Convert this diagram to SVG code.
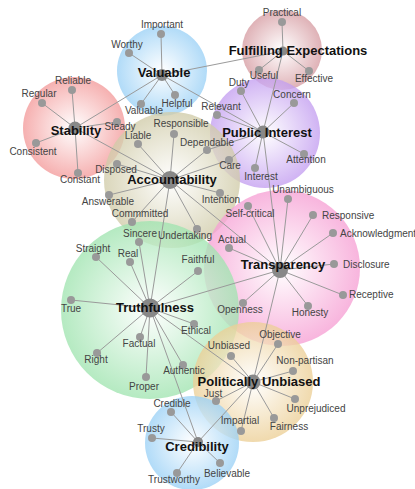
<svg xmlns="http://www.w3.org/2000/svg" width="415" height="489" viewBox="0 0 415 489">
<defs>
<style>
.e{stroke:#9a9a9a;stroke-width:1;fill:none}
.d{fill:#999}
.h{fill:#888}
.l{font-family:"Liberation Sans",Arial,sans-serif;font-size:10px;fill:#444;text-anchor:middle}
.s{text-anchor:start}
.t{font-family:"Liberation Sans",Arial,sans-serif;font-size:13px;font-weight:bold;fill:#111;text-anchor:middle}
.c{fill-opacity:0.78}
</style>
<radialGradient id="gBlue"><stop offset="0" stop-color="#fff"/><stop offset="1" stop-color="#9bd1f6"/></radialGradient>
<radialGradient id="gRed"><stop offset="0" stop-color="#fff"/><stop offset="1" stop-color="#f39a9a"/></radialGradient>
<radialGradient id="gRose"><stop offset="0" stop-color="#fff"/><stop offset="1" stop-color="#d69ca2"/></radialGradient>
<radialGradient id="gPurple"><stop offset="0" stop-color="#fff"/><stop offset="1" stop-color="#c39ef0"/></radialGradient>
<radialGradient id="gOlive"><stop offset="0" stop-color="#fff"/><stop offset="1" stop-color="#d0cba8"/></radialGradient>
<radialGradient id="gPink"><stop offset="0" stop-color="#fff"/><stop offset="1" stop-color="#f6a0d4"/></radialGradient>
<radialGradient id="gGreen"><stop offset="0" stop-color="#fff"/><stop offset="1" stop-color="#a0e4b0"/></radialGradient>
<radialGradient id="gTan"><stop offset="0" stop-color="#fff"/><stop offset="1" stop-color="#eccf96"/></radialGradient>
</defs>
<rect width="415" height="489" fill="#fff"/>
<g id="circles">
<circle class="c" cx="162" cy="71" r="45" fill="url(#gBlue)"/>
<circle class="c" cx="74" cy="128" r="51" fill="url(#gRed)"/>
<circle class="c" cx="282" cy="50" r="40" fill="url(#gRose)"/>
<circle class="c" cx="265" cy="133" r="55" fill="url(#gPurple)"/>
<circle class="c" cx="172" cy="180" r="68" fill="url(#gOlive)"/>
<circle class="c" cx="282" cy="268" r="78" fill="url(#gPink)"/>
<circle class="c" cx="150" cy="310" r="89" fill="url(#gGreen)"/>
<circle class="c" cx="253" cy="382" r="60" fill="url(#gTan)"/>
<circle class="c" cx="192" cy="443" r="47" fill="url(#gBlue)"/>
</g>
<g id="connectors">
<path class="e" d="M162 75L161 34M162 75L129 53M162 75L141 104M162 75L175 95M162 75L75 128M162 75L283 51M162 75L263 132"/>
<path class="e" d="M75 128L72 90M75 128L42 103M75 128L117 122M75 128L36 143M75 128L78 173M75 128L170 180"/>
<path class="e" d="M283 51L282 22M283 51L259 70M283 51L309 71M283 51L263 132"/>
<path class="e" d="M263 132L241 91M263 132L294 103M263 132L217 115M263 132L207 150M263 132L229 160M263 132L255 168M263 132L304 154M263 132L280 270"/>
<path class="e" d="M170 180L174 134M170 180L138 144M170 180L207 150M170 180L229 160M170 180L117 164M170 180L109 195M170 180L132 222M170 180L220 193M170 180L197 229M170 180L150 308M170 180L280 270"/>
<path class="e" d="M280 270L288 199M280 270L248 206M280 270L313 215M280 270L333 233M280 270L334 264M280 270L343 295M280 270L308 306M280 270L243 303M280 270L229 248M280 270L150 308M280 270L253 382"/>
<path class="e" d="M150 308L96 257M150 308L130 262M150 308L139 242M150 308L198 271M150 308L71 300M150 308L97 353M150 308L140 337M150 308L146 377M150 308L194 324M150 308L183 365M150 308L253 382M150 308L198 442"/>
<path class="e" d="M253 382L278 344M253 382L231 356M253 382L293 371M253 382L295 399M253 382L274 418M253 382L241 431M253 382L216 401M253 382L198 442"/>
<path class="e" d="M198 442L171 412M198 442L152 438M198 442L177 473M198 442L220 463"/>
</g>
<g id="Valuable">
<circle class="h" cx="162" cy="75" r="6"/>
<circle class="d" cx="161" cy="34" r="4"/><text class="l" x="162" y="28">Important</text>
<circle class="d" cx="129" cy="53" r="4"/><text class="l" x="127" y="48">Worthy</text>
<circle class="d" cx="141" cy="104" r="4"/><text class="l" x="144" y="114">Valuable</text>
<circle class="d" cx="175" cy="95" r="4"/><text class="l" x="177" y="107">Helpful</text>
<text class="t" x="164" y="77">Valuable</text>
</g>
<g id="Stability">
<circle class="h" cx="75" cy="128" r="6.5"/>
<circle class="d" cx="72" cy="90" r="4"/><text class="l" x="73" y="84">Reliable</text>
<circle class="d" cx="42" cy="103" r="4"/><text class="l" x="39" y="97">Regular</text>
<circle class="d" cx="117" cy="122" r="4"/><text class="l" x="120" y="130">Steady</text>
<circle class="d" cx="36" cy="143" r="4"/><text class="l" x="33" y="155">Consistent</text>
<circle class="d" cx="78" cy="173" r="4"/><text class="l" x="80" y="183">Constant</text>
<text class="t" x="76" y="135">Stability</text>
</g>
<g id="FulfillingExpectations">
<circle class="h" cx="283" cy="51" r="4.5"/>
<circle class="d" cx="282" cy="22" r="4"/><text class="l" x="282" y="16">Practical</text>
<circle class="d" cx="259" cy="70" r="4"/><text class="l" x="264" y="79">Useful</text>
<circle class="d" cx="309" cy="71" r="4"/><text class="l" x="314" y="82">Effective</text>
<text class="t" x="298" y="55">Fulfilling Expectations</text>
</g>
<g id="PublicInterest">
<circle class="h" cx="263" cy="132" r="6.5"/>
<circle class="d" cx="241" cy="91" r="4"/><text class="l" x="239" y="86">Duty</text>
<circle class="d" cx="294" cy="103" r="4"/><text class="l" x="292" y="98">Concern</text>
<circle class="d" cx="217" cy="115" r="4"/><text class="l" x="221" y="110">Relevant</text>
<circle class="d" cx="229" cy="160" r="4"/><text class="l" x="230" y="169">Care</text>
<circle class="d" cx="255" cy="168" r="4"/><text class="l" x="261" y="180">Interest</text>
<circle class="d" cx="304" cy="154" r="4"/><text class="l" x="306" y="163">Attention</text>
<text class="t" x="267" y="137">Public Interest</text>
</g>
<g id="Accountability">
<circle class="h" cx="170" cy="180" r="9"/>
<circle class="d" cx="174" cy="134" r="4"/><text class="l" x="181" y="127">Responsible</text>
<circle class="d" cx="138" cy="144" r="4"/><text class="l" x="138" y="139">Liable</text>
<circle class="d" cx="207" cy="150" r="4"/><text class="l" x="207" y="146">Dependable</text>
<circle class="d" cx="117" cy="164" r="4"/><text class="l" x="116" y="173">Disposed</text>
<circle class="d" cx="109" cy="195" r="4"/><text class="l" x="108" y="205">Answerable</text>
<circle class="d" cx="132" cy="222" r="4"/><text class="l" x="140" y="217">Commmitted</text>
<circle class="d" cx="220" cy="193" r="4"/><text class="l" x="221" y="203">Intention</text>
<circle class="d" cx="197" cy="229" r="4"/><text class="l" x="185" y="239">Undertaking</text>
<text class="t" x="172" y="184">Accountability</text>
</g>
<g id="Transparency">
<circle class="h" cx="280" cy="270" r="8"/>
<circle class="d" cx="288" cy="199" r="4"/><text class="l" x="303" y="193">Unambiguous</text>
<circle class="d" cx="248" cy="206" r="4"/><text class="l" x="250" y="217">Self-critical</text>
<circle class="d" cx="313" cy="215" r="4"/><text class="l s" x="322" y="219">Responsive</text>
<circle class="d" cx="333" cy="233" r="4"/><text class="l s" x="340" y="237">Acknowledgment</text>
<circle class="d" cx="334" cy="264" r="4"/><text class="l s" x="343" y="268">Disclosure</text>
<circle class="d" cx="343" cy="295" r="4"/><text class="l s" x="349" y="298">Receptive</text>
<circle class="d" cx="308" cy="306" r="4"/><text class="l" x="310" y="316">Honesty</text>
<circle class="d" cx="243" cy="303" r="4"/><text class="l" x="240" y="313">Openness</text>
<circle class="d" cx="229" cy="248" r="4"/><text class="l" x="232" y="243">Actual</text>
<text class="t" x="283" y="269">Transparency</text>
</g>
<g id="Truthfulness">
<circle class="h" cx="150" cy="308" r="9.5"/>
<circle class="d" cx="96" cy="257" r="4"/><text class="l" x="93" y="252">Straight</text>
<circle class="d" cx="130" cy="262" r="4"/><text class="l" x="128" y="257">Real</text>
<circle class="d" cx="139" cy="242" r="4"/><text class="l" x="140" y="237">Sincere</text>
<circle class="d" cx="198" cy="271" r="4"/><text class="l" x="198" y="263">Faithful</text>
<circle class="d" cx="71" cy="300" r="4"/><text class="l" x="71" y="312">True</text>
<circle class="d" cx="97" cy="353" r="4"/><text class="l" x="96" y="363">Right</text>
<circle class="d" cx="140" cy="337" r="4"/><text class="l" x="139" y="347">Factual</text>
<circle class="d" cx="146" cy="377" r="4"/><text class="l" x="144" y="390">Proper</text>
<circle class="d" cx="194" cy="324" r="4"/><text class="l" x="196" y="334">Ethical</text>
<circle class="d" cx="183" cy="365" r="4"/><text class="l" x="184" y="374">Authentic</text>
<text class="t" x="155" y="312">Truthfulness</text>
</g>
<g id="PoliticallyUnbiased">
<circle class="h" cx="253" cy="382" r="7.5"/>
<circle class="d" cx="278" cy="344" r="4"/><text class="l" x="280" y="338">Objective</text>
<circle class="d" cx="231" cy="356" r="4"/><text class="l" x="229" y="349">Unbiased</text>
<circle class="d" cx="293" cy="371" r="4"/><text class="l" x="305" y="364">Non-partisan</text>
<circle class="d" cx="295" cy="399" r="4"/><text class="l" x="316" y="412">Unprejudiced</text>
<circle class="d" cx="274" cy="418" r="4"/><text class="l" x="289" y="430">Fairness</text>
<circle class="d" cx="241" cy="431" r="4"/><text class="l" x="240" y="424">Impartial</text>
<circle class="d" cx="216" cy="401" r="4"/><text class="l" x="213" y="397">Just</text>
<text class="t" x="259" y="386">Politically Unbiased</text>
</g>
<g id="Credibility">
<circle class="h" cx="198" cy="442" r="5"/>
<circle class="d" cx="171" cy="412" r="4"/><text class="l" x="172" y="407">Credible</text>
<circle class="d" cx="152" cy="438" r="4"/><text class="l" x="151" y="432">Trusty</text>
<circle class="d" cx="177" cy="473" r="4"/><text class="l" x="174" y="483">Trustworthy</text>
<circle class="d" cx="220" cy="463" r="4"/><text class="l" x="227" y="477">Believable</text>
<text class="t" x="197" y="451">Credibility</text>
</g>
</svg>
